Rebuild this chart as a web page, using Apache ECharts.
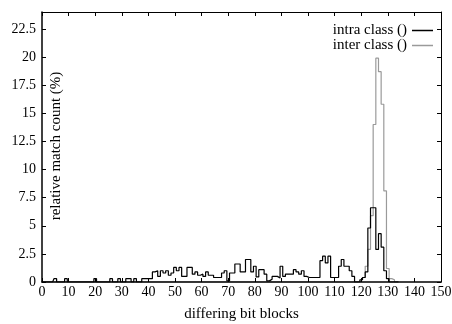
<!DOCTYPE html>
<html>
<head>
<meta charset="utf-8">
<script src="https://cdn.jsdelivr.net/npm/echarts@6/dist/echarts.min.js"></script>
<style>
    html, body { margin: 0; padding: 0; background: #fff; }
    #match-hist { width: 452px; height: 324px; }
</style>
</head>
<body>
<div id="match-hist"></div>
<script>
    // x ticks and y ticks
    const xTicks = [0, 10, 20, 30, 40, 50, 60, 70, 80, 90, 100, 110, 120, 130, 140, 150];
    const yTicks = [0, 2.5, 5, 7.5, 10, 12.5, 15, 17.5, 20, 22.5];

    // relative match count (%) per differing bit block count, index = bin 0..134
    const intraClass = [
        0, 0, 0, 0, 0, 0.3, 0, 0, 0, 0.3,
        0, 0, 0, 0, 0, 0, 0, 0, 0, 0,
        0.3, 0, 0, 0, 0, 0, 0.3, 0, 0, 0.3,
        0, 0, 0.3, 0.3, 0, 0.3, 0, 0, 0.3, 0.3,
        0.3, 0.3, 0.9, 1.0, 0.5, 1.0, 0.8, 1.0, 0.6, 0.8,
        1.3, 1.0, 1.3, 0.5, 0.5, 1.3, 1.3, 0.7, 0.9, 0.6,
        0.7, 0.5, 0.9, 0.6, 0.6, 0.4, 0.4, 0.4, 0.8, 1.0,
        0.1, 0.8, 0.8, 1.6, 1.6, 0.9, 0.9, 2.0, 2.0, 0.9,
        1.4, 0.45, 1.1, 1.1, 0.7, 0.1, 0.25, 0.5, 0.5, 0.35,
        1.4, 0.5, 0.7, 0.7, 0.7, 1.1, 0.9, 0.7, 1.0, 0.5,
        0.4, 0.4, 0.4, 0.4, 0.4, 1.9, 2.3, 1.7, 2.3, 0.4,
        0.4, 0.4, 1.4, 2.0, 1.4, 1.4, 1.0, 0.5, 0, 0,
        0.2, 0.4, 0.9, 4.8, 6.6, 6.6, 2.9, 4.3, 3.1, 1.0,
        0.3, 0, 0, 0, 0
    ];
    const interClass = [
        0, 0, 0, 0, 0, 0, 0, 0, 0, 0,
        0, 0, 0, 0, 0, 0, 0, 0, 0, 0,
        0, 0, 0, 0, 0, 0, 0, 0, 0, 0,
        0, 0, 0, 0, 0, 0, 0, 0, 0, 0,
        0, 0, 0, 0, 0, 0, 0, 0, 0, 0,
        0, 0, 0, 0, 0, 0, 0, 0, 0, 0,
        0, 0, 0, 0, 0, 0, 0, 0, 0, 0,
        0, 0, 0, 0, 0, 0, 0, 0, 0, 0,
        0, 0, 0, 0, 0, 0, 0, 0, 0, 0,
        0, 0, 0, 0, 0, 0, 0, 0, 0, 0,
        0, 0, 0, 0, 0, 0, 0, 0, 0, 0,
        0, 0, 0, 0, 0, 0, 0, 0, 0, 0,
        0.1, 0.4, 1.4, 2.9, 5.9, 14.0, 19.9, 18.7, 15.8, 8.1,
        1.2, 0.3, 0.2, 0, 0
    ];

    const serif = 'Liberation Serif';
    const xStep = xTicks[1] - xTicks[0];
    const yStep = yTicks[1] - yTicks[0];

    const chart = echarts.init(document.getElementById('match-hist'));

    const frameAxisX = (pos, width, extra) => Object.assign({
        type: 'value',
        position: pos,
        min: xTicks[0],
        max: xTicks[xTicks.length - 1],
        interval: xStep,
        z: 3,
        axisLine: { show: true, onZero: false, lineStyle: { color: '#000', width: width } },
        axisTick: { show: true, inside: true, length: 4, lineStyle: { color: '#000' } },
        axisLabel: { show: false },
        splitLine: { show: false }
    }, extra);

    const frameAxisY = (pos, width, extra) => Object.assign({
        type: 'value',
        position: pos,
        min: 0,
        max: 24,
        interval: yStep,
        z: 3,
        axisLine: { show: true, onZero: false, lineStyle: { color: '#000', width: width } },
        axisTick: { show: true, inside: true, length: 4, lineStyle: { color: '#000' } },
        axisLabel: { show: false },
        splitLine: { show: false }
    }, extra);

    const option = {
        animation: false,
        grid: { left: 42, right: 11, top: 12, bottom: 42, containLabel: false, outerBoundsMode: 'none' },
        legend: {
            orient: 'vertical',
            right: 19,
            top: 23,
            padding: 0,
            itemGap: 0,
            align: 'right',
            icon: 'rect',
            itemWidth: 21,
            itemHeight: 1.5,
            textStyle: { fontFamily: serif, fontSize: 15, color: '#000', lineHeight: 13 },
            data: ['intra class ()', 'inter class ()']
        },
        // y title sits inside the plot area, like the original
        graphic: [
            {
                type: 'text',
                x: 56,
                y: 146,
                rotation: Math.PI / 2,
                style: {
                    text: 'relative match count (%)',
                    fill: '#000',
                    font: '15px "Liberation Serif"',
                    textAlign: 'center',
                    textVerticalAlign: 'middle'
                }
            }
        ],
        xAxis: [
            frameAxisX('bottom', 1.5, {
                axisLabel: { show: true, color: '#000', fontFamily: serif, fontSize: 14, margin: 3 },
                name: 'differing bit blocks',
                nameLocation: 'middle',
                nameGap: 25,
                nameTextStyle: { fontFamily: serif, fontSize: 15, color: '#000' }
            }),
            frameAxisX('top', 1, {})
        ],
        yAxis: [
            frameAxisY('left', 1.5, {
                axisLabel: { show: true, showMaxLabel: false, color: '#000', fontFamily: serif, fontSize: 14, margin: 6 }
            }),
            frameAxisY('right', 1, {})
        ],
        series: [
            {
                name: 'intra class ()',
                type: 'line',
                step: 'middle',
                symbol: 'none',
                z: 2,
                lineStyle: { color: '#000', width: 1.2 },
                itemStyle: { color: '#000' },
                data: intraClass.map((v, i) => [i, v])
            },
            {
                name: 'inter class ()',
                type: 'line',
                step: 'middle',
                symbol: 'none',
                z: 1,
                lineStyle: { color: '#9a9a9a', width: 1.2 },
                itemStyle: { color: '#9a9a9a' },
                data: interClass.map((v, i) => [i, v])
            }
        ]
    };

    chart.setOption(option);
    window.addEventListener('resize', () => {
        chart.resize();
    });
</script>
</body>
</html>
